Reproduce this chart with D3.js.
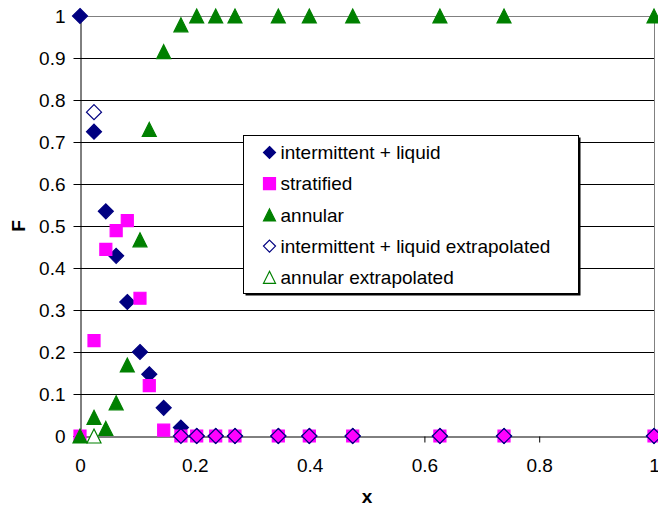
<!DOCTYPE html>
<html>
<head>
<meta charset="utf-8">
<script src="https://cdn.jsdelivr.net/npm/d3@7"></script>
<style>
  body { margin: 0; background: #fff; }
  svg text { font-family: "Liberation Sans", Arial, sans-serif; }
</style>
</head>
<body>
<div id="chart"></div>
<script>
// x positions shared by all series
const xs = [0, 0.0244, 0.045, 0.063, 0.0824, 0.1045, 0.1207, 0.1458, 0.1758,
  0.2033, 0.2364, 0.27, 0.3455, 0.3995, 0.4751, 0.627, 0.7387, 1];

const intermittent = [1, 0.7245, 0.535, 0.429, 0.319, 0.2, 0.147, 0.067, 0.02,
  0, 0, 0, 0, 0, 0, 0, 0, 0];
const stratified = [0, 0.227, 0.4445, 0.489, 0.5127, 0.328, 0.12, 0.014, 0,
  0, 0, 0, 0, 0, 0, 0, 0, 0];
const annular = [0, 0.0445, 0.018, 0.079, 0.169, 0.467, 0.73, 0.915, 0.979,
  1, 1, 1, 1, 1, 1, 1, 1, 1];

// extrapolated points
const intermExtX = [0.0244, 0.1758, 0.2033, 0.2364, 0.27, 0.3455, 0.3995, 0.4751, 0.627, 0.7387, 1];
const intermExtY = [0.771, 0, 0, 0, 0, 0, 0, 0, 0, 0, 0];
const annularExtX = [0.0244];
const annularExtY = [0];

const xTicks = [0, 0.2, 0.4, 0.6, 0.8, 1];
const yTicks = [0, 0.1, 0.2, 0.3, 0.4, 0.5, 0.6, 0.7, 0.8, 0.9, 1];
const legendLabels = ["intermittent + liquid", "stratified", "annular",
  "intermittent + liquid extrapolated", "annular extrapolated"];

const width = 658, height = 507;
const margin = {top: 16, right: 4, bottom: 71, left: 80};
const fontSize = 19;

const svg = d3.select("#chart").append("svg")
  .attr("width", width)
  .attr("height", height);

const x = d3.scaleLinear().domain([0, 1]).range([margin.left, width - margin.right]);
const y = d3.scaleLinear().domain([0, 1]).range([height - margin.bottom, margin.top]);

// gridlines
svg.append("g")
  .selectAll("line")
  .data(yTicks.filter(d => d > 0))
  .join("line")
    .attr("x1", x(0))
    .attr("x2", x(1))
    .attr("y1", d => Math.round(y(d)) + 0.5)
    .attr("y2", d => Math.round(y(d)) + 0.5)
    .attr("stroke", d => d === 1 ? "#808080" : "#000")
    .attr("stroke-width", 1);

// right border of plot area
svg.append("line")
  .attr("x1", Math.round(x(1)) + 0.5).attr("x2", Math.round(x(1)) + 0.5)
  .attr("y1", y(1)).attr("y2", y(0))
  .attr("stroke", "#808080");

// axes
const xAxis = svg.append("g")
  .attr("transform", "translate(0," + (Math.round(y(0)) + 0.5) + ")")
  .call(d3.axisBottom(x).tickValues(xTicks).tickSize(6).tickPadding(16)
    .tickFormat(d => d3.format("")(+d.toFixed(1))));
xAxis.select(".domain").attr("stroke", "#000");
xAxis.selectAll("text").attr("font-size", fontSize).attr("fill", "#000")
  .attr("font-family", "Liberation Sans, Arial, sans-serif");

const yAxis = svg.append("g")
  .attr("transform", "translate(" + (Math.round(x(0)) + 0.5) + ",0)")
  .call(d3.axisLeft(y).tickValues(yTicks).tickSize(7).tickPadding(8)
    .tickFormat(d => d3.format("")(+d.toFixed(1))));
yAxis.select(".domain").attr("stroke", "#000");
yAxis.selectAll("text").attr("font-size", fontSize).attr("fill", "#000")
  .attr("font-family", "Liberation Sans, Arial, sans-serif");

// axis titles
svg.append("text")
  .attr("x", (x(0) + x(1)) / 2)
  .attr("y", 503)
  .attr("text-anchor", "middle")
  .attr("font-size", fontSize)
  .attr("font-weight", "bold")
  .text("x");

svg.append("text")
  .attr("transform", "translate(25," + ((y(0) + y(1)) / 2) + ") rotate(-90)")
  .attr("text-anchor", "middle")
  .attr("font-size", fontSize)
  .attr("font-weight", "bold")
  .text("F");

// marker shapes
function diamond(s) {
  return "M0," + (-s) + "L" + s + ",0L0," + s + "L" + (-s) + ",0Z";
}
function square(s) {
  return "M" + (-s) + "," + (-s) + "h" + (2 * s) + "v" + (2 * s) + "h" + (-2 * s) + "Z";
}
function triangle(s) {
  return "M0," + (-s) + "L" + s + "," + s + "L" + (-s) + "," + s + "Z";
}

const series = [
  {xv: xs, yv: intermittent, path: diamond(7.5), fill: "#000080", stroke: "#000080"},
  {xv: xs, yv: stratified, path: square(6), fill: "#ff00ff", stroke: "#ff00ff"},
  {xv: xs, yv: annular, path: triangle(7), fill: "#008000", stroke: "#008000"},
  {xv: intermExtX, yv: intermExtY, path: diamond(7.5), fill: "none", stroke: "#000080"},
  {xv: annularExtX, yv: annularExtY, path: triangle(7), fill: "#fff", stroke: "#008000"}
];

const marks = svg.append("g");
series.forEach(function(s) {
  marks.append("g")
    .selectAll("path")
    .data(s.xv.map((v, i) => [v, s.yv[i]]))
    .join("path")
      .attr("d", s.path)
      .attr("transform", d => "translate(" + x(d[0]) + "," + y(d[1]) + ")")
      .attr("fill", s.fill)
      .attr("stroke", s.stroke)
      .attr("stroke-width", 1.2);
});

// legend
const legend = svg.append("g").attr("transform", "translate(243.5,135.5)");
legend.append("rect")
  .attr("x", 2).attr("y", 2)
  .attr("width", 335).attr("height", 158)
  .attr("fill", "#000");
legend.append("rect")
  .attr("width", 335).attr("height", 158)
  .attr("fill", "#fff")
  .attr("stroke", "#000");

const legendMarks = [
  {path: diamond(6), fill: "#000080", stroke: "#000080"},
  {path: square(6), fill: "#ff00ff", stroke: "#ff00ff"},
  {path: triangle(6), fill: "#008000", stroke: "#008000"},
  {path: diamond(6), fill: "#fff", stroke: "#000080"},
  {path: triangle(6), fill: "#fff", stroke: "#008000"}
];

const rows = legend.selectAll(".row")
  .data(legendLabels)
  .join("g")
    .attr("class", "row")
    .attr("transform", (d, i) => "translate(0," + (17 + i * 31.2) + ")");

rows.append("path")
  .attr("d", (d, i) => legendMarks[i].path)
  .attr("transform", "translate(26,0)")
  .attr("fill", (d, i) => legendMarks[i].fill)
  .attr("stroke", (d, i) => legendMarks[i].stroke)
  .attr("stroke-width", 1.2);

rows.append("text")
  .attr("x", 37)
  .attr("dy", "0.35em")
  .attr("font-size", fontSize)
  .text(d => d);
</script>
</body>
</html>
